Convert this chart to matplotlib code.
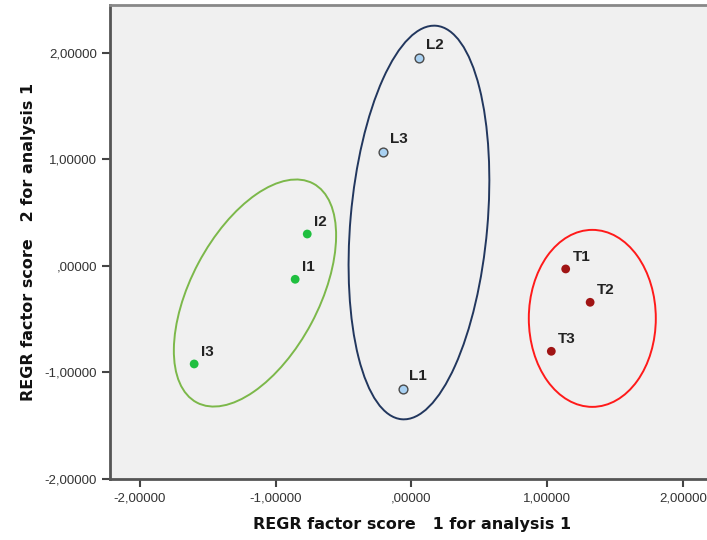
import numpy as np
import matplotlib.pyplot as plt
from matplotlib.patches import Ellipse
from matplotlib.transforms import ScaledTranslation
from matplotlib.ticker import FuncFormatter

# factor scores
labels_I = ['I1', 'I2', 'I3']
x_I = [-0.856, -0.767, -1.60]
y_I = [-0.125, 0.30, -0.92]

labels_L = ['L1', 'L2', 'L3']
x_L = [-0.065, 0.058, -0.209]
y_L = [-1.152, 1.956, 1.073]

labels_T = ['T1', 'T2', 'T3']
x_T = [1.137, 1.317, 1.031]
y_T = [-0.028, -0.341, -0.801]

# group ellipses: centre in data units, size in inches, angle in degrees
ell_centres = [(-1.152, -0.254), (0.056, 0.408), (1.333, -0.492)]
ell_sizes = [(2.48, 1.28), (3.95, 1.37), (1.27, 1.77)]
ell_angles = [62, 85, 0]
ell_colors = ['#7cb84a', '#22375e', '#ff1a1a']

ticks = [-2, -1, 0, 1, 2]

def fmt(v, pos):
    s = '%.5f' % v
    s = s.replace('.', ',')
    if s.startswith('0,'):
        s = s[1:]
    if s.startswith('-0,'):
        s = s[2:]
    return s

fig = plt.figure(figsize=(7.07, 5.40), dpi=100)
ax = fig.add_axes([110/707, 61/540, 1 - 110/707 + 0.01, 474/540])
ax.set_facecolor('#f0f0f0')
ax.set_xlim(-2.22, 2.23)
ax.set_ylim(-2.0, 2.45)

for (cx, cy), (w, h), ang, c in zip(ell_centres, ell_sizes, ell_angles, ell_colors):
    tr = fig.dpi_scale_trans + ScaledTranslation(cx, cy, ax.transData)
    ax.add_patch(Ellipse((0, 0), w, h, angle=ang, transform=tr,
                         fill=False, edgecolor=c, lw=1.4, zorder=2))

ax.scatter(x_I, y_I, s=40, color='#1fbf3f', edgecolor='none', zorder=3)
ax.scatter(x_L, y_L, s=40, color='#a9d1f2', edgecolor='#4a4a4a', lw=1.0, zorder=3)
ax.scatter(x_T, y_T, s=40, color='#a01414', edgecolor='none', zorder=3)

for labs, xs, ys in [(labels_I, x_I, y_I), (labels_L, x_L, y_L), (labels_T, x_T, y_T)]:
    for lab, x, y in zip(labs, xs, ys):
        ax.annotate(lab, (x, y), xytext=(5, 6), textcoords='offset points',
                    fontsize=11, fontweight='bold', color='#222222',
                    family='Liberation Sans', zorder=4)

ax.set_xticks(ticks)
ax.set_yticks(ticks)
ax.xaxis.set_major_formatter(FuncFormatter(fmt))
ax.yaxis.set_major_formatter(FuncFormatter(fmt))
ax.tick_params(direction='out', length=6, width=1.5, color='#444444',
               labelsize=9.5, labelcolor='#333333')
for lab in ax.get_xticklabels() + ax.get_yticklabels():
    lab.set_family('Liberation Sans')

ax.spines['left'].set_color('#555555')
ax.spines['left'].set_linewidth(2)
ax.spines['bottom'].set_color('#555555')
ax.spines['bottom'].set_linewidth(2)
ax.spines['top'].set_color('#888888')
ax.spines['top'].set_linewidth(2)
ax.spines['right'].set_visible(False)

ax.set_xlabel('REGR factor score   1 for analysis 1', fontsize=11.5,
              fontweight='bold', labelpad=9, color='#111111')
ax.set_ylabel('REGR factor score   2 for analysis 1', fontsize=11.5,
              fontweight='bold', labelpad=6, color='#111111')

fig.savefig('out.png', dpi=100)
